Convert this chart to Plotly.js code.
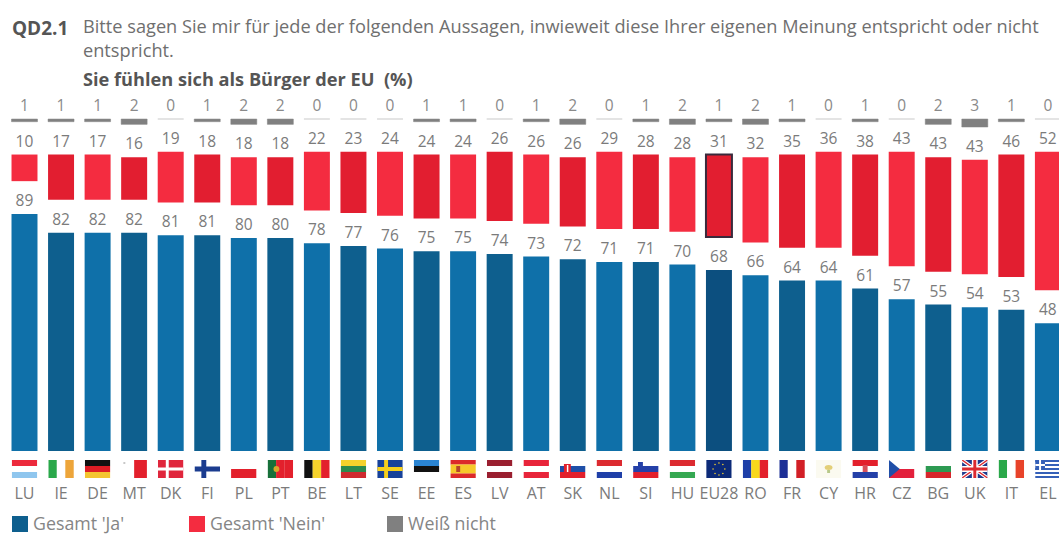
<!DOCTYPE html>
<html>
<head>
<meta charset="utf-8">
<script src="https://cdn.plot.ly/plotly-3.0.1.min.js"></script>
<style>html,body{margin:0;padding:0;background:#fff}#chart{width:1059px;height:535px}</style>
</head>
<body>
<div id="chart"></div>
<script>
const countries = ['LU','IE','DE','MT','DK','FI','PL','PT','BE','LT','SE','EE','ES','LV','AT','SK','NL','SI','HU','EU28','RO','FR','CY','HR','CZ','BG','UK','IT','EL'];
const gesamtJa = [89,82,82,82,81,81,80,80,78,77,76,75,75,74,73,72,71,71,70,68,66,64,64,61,57,55,54,53,48];
const gesamtNein = [10,17,17,16,19,18,18,18,22,23,24,24,24,26,26,26,29,28,28,31,32,35,36,38,43,43,43,46,52];
const weissNicht = [1,1,1,2,0,1,2,2,0,0,0,1,1,0,1,2,0,1,2,1,2,1,0,1,0,2,3,1,0];
const legendNames = ["Gesamt 'Ja'", "Gesamt 'Nein'", "Weiß nicht"];
const titleCode = 'QD2.1';
const titleLines = ['Bitte sagen Sie mir für jede der folgenden Aussagen, inwieweit diese Ihrer eigenen Meinung entspricht oder nicht', 'entspricht.'];
const subtitle = 'Sie fühlen sich als Bürger der EU  (%)';

const W = 1059, H = 535, BASE_PX = 451, PX_PER_UNIT = 2.663;
const GAP = 12.33;
const FONT = '"Open Sans", "Noto Sans", sans-serif';
const XR = [-24.5/36.55, (1059-24.5)/36.55];
const px = x => x / W;
const py = y => (BASE_PX - y) / BASE_PX;
const catX = i => (i - XR[0]) / (XR[1] - XR[0]);

const BL = ['#0f70a9', '#0e5f8e'];
const RD = ['#f42c40', '#e21e30'];
const GY = '#808080';
const alt = p => countries.map((_, i) => p[i % 2]);

/* flags */
function hs(c, extra='') { const h = 18/c.length; return c.map((k,i)=>`<rect x="0" y="${i*h}" width="26" height="${h+0.1}" fill="${k}"/>`).join('') + extra; }
function vs(c, extra='') { const w = 26/c.length; return c.map((k,i)=>`<rect x="${i*w}" y="0" width="${w+0.1}" height="18" fill="${k}"/>`).join('') + extra; }
const R = (x,y,w,h,f) => `<rect x="${x}" y="${y}" width="${w}" height="${h}" fill="${f}"/>`;
const flagArt = {
  LU: hs(['#ec2a3c','#ffffff','#8fc6ee']),
  IE: vs(['#2aa84a','#ffffff','#eda53a']),
  DE: hs(['#111111','#dd1c24','#f4c430']),
  MT: vs(['#ffffff','#e3202c']) + R(2,2,2,2,'#c8c8c8'),
  DK: hs(['#e0263c']) + R(8,0,3,18,'#fff') + R(0,7.5,26,3,'#fff'),
  FI: hs(['#ffffff']) + R(7,0,5,18,'#1b3c8f') + R(0,6.5,26,5,'#1b3c8f'),
  PL: hs(['#ffffff','#e3202c']),
  PT: vs(['#17703a','#e3202c','#e3202c']) + `<circle cx="9" cy="9" r="3" fill="#d8a62a"/>`,
  BE: vs(['#111111','#f6d32c','#e3202c']),
  LT: hs(['#f4d22c','#2b8a4e','#cf2a30']),
  SE: hs(['#17429a']) + R(7,0,4,18,'#f5cf1d') + R(0,7,26,4,'#f5cf1d'),
  EE: hs(['#2a84d2','#111111','#ffffff']),
  ES: hs(['#dc2a2a','#f6c92a','#f6c92a','#dc2a2a']) + R(6,6,4,6,'#b5452a'),
  LV: hs(['#9a1f30','#ffffff','#9a1f30']),
  AT: hs(['#e8243a','#ffffff','#e8243a']),
  SK: hs(['#ffffff','#1f4fa8','#e3202c']) + R(4,4,7,9,'#e3202c') + R(7,5,1.5,7,'#fff'),
  NL: hs(['#dc2a30','#ffffff','#1f3fa8']),
  SI: hs(['#ffffff','#2440a8','#e3202c']) + R(5,2,5,6,'#2440a8'),
  HU: hs(['#dc2a30','#ffffff','#35a852']),
  EU28: hs(['#0c2a78']) + [[13,3],[17,4.5],[19,9],[17,13.5],[13,15],[9,13.5],[7,9],[9,4.5]].map(p=>`<circle cx="${p[0]}" cy="${p[1]}" r="0.8" fill="#f4d22c"/>`).join(''),
  RO: vs(['#1d3fa8','#f8d81c','#e3202c']),
  FR: vs(['#1c2f96','#ffffff','#d21f26']),
  CY: hs(['#fbfaf0']) + `<ellipse cx="13" cy="7.5" rx="4" ry="2.5" fill="#e3cf78"/>` + R(11.5,10,3,3,'#b8c88a'),
  HR: hs(['#e3202c','#ffffff','#2440a8']) + R(10.5,5,5,7,'#d8505a'),
  CZ: hs(['#ffffff','#e3203c']) + `<polygon points="0,0 11,9 0,18" fill="#1f4fa8"/>`,
  BG: hs(['#ffffff','#2d9a52','#d8262c']),
  UK: hs(['#1f3a8c']) + `<path d="M0 0L26 18M26 0L0 18" stroke="#fff" stroke-width="3.6"/><path d="M0 0L26 18M26 0L0 18" stroke="#dc2a30" stroke-width="1.4"/>` + R(10,0,6,18,'#fff') + R(0,6,26,6,'#fff') + R(11.5,0,3,18,'#dc2a30') + R(0,7.5,26,3,'#dc2a30'),
  IT: vs(['#2aa84a','#ffffff','#e8432a']),
  EL: hs(['#3560b8','#ffffff','#3560b8','#ffffff','#3560b8','#ffffff','#3560b8','#ffffff','#3560b8']) + R(0,0,10,10,'#3560b8') + R(4,0,2,10,'#fff') + R(0,4,10,2,'#fff')
};
const flagUri = k => 'data:image/svg+xml;charset=utf-8,' + encodeURIComponent(`<svg xmlns="http://www.w3.org/2000/svg" width="26" height="18" viewBox="0 0 26 18" preserveAspectRatio="none">${flagArt[k]}</svg>`);
const flagImages = countries.map((c, i) => ({
  source: flagUri(c), xref: 'paper', yref: 'paper',
  x: catX(i), xanchor: 'center', y: py(460), yanchor: 'top',
  sizex: 25.5 / W, sizey: 18 / BASE_PX, sizing: 'stretch', layer: 'above'
}));

const textFont = c => ({family: FONT, size: 15.5, color: c});
const barCommon = {
  type: 'bar', x: countries, width: 0.711, textposition: 'outside', cliponaxis: false,
  constraintext: 'none', hoverinfo: 'skip', showlegend: false
};
const redBase = gesamtJa.map(v => v + GAP);
const grayBase = gesamtJa.map((v, i) => v + GAP + gesamtNein[i] + GAP);

const traces = [
  Object.assign({}, barCommon, {
    name: legendNames[0], y: gesamtJa, text: gesamtJa.map(String),
    textfont: textFont('#7b7b7b'), marker: {color: alt(BL).map((c,i)=>countries[i]==='EU28'?'#0c4f7f':c)}
  }),
  Object.assign({}, barCommon, {
    name: legendNames[1], y: gesamtNein, base: redBase, text: gesamtNein.map(String),
    textfont: textFont('#7b7b7b'),
    marker: {color: alt(RD), line: {
      color: countries.map(c => c === 'EU28' ? '#3a2a3c' : 'rgba(0,0,0,0)'),
      width: countries.map(c => c === 'EU28' ? 2 : 0)}}
  }),
  Object.assign({}, barCommon, {
    name: legendNames[2], y: weissNicht, base: grayBase, text: weissNicht.map(String),
    textfont: textFont('#8a8a8a'),
    marker: {color: GY, line: {
      color: weissNicht.map(v => v === 0 ? '#dcdcdc' : GY),
      width: weissNicht.map(v => v === 0 ? 1.5 : 0.5)}}
  })
];

const note = (x, y, text, o={}) => Object.assign({
  xref: 'paper', yref: 'paper', x: px(x - 1), y: py(y), text, showarrow: false,
  xanchor: 'left', yanchor: 'middle', align: 'left', borderpad: 0,
  font: {family: FONT, size: 18.2, color: '#6f6f6f'}
}, o);

const legendX = [12, 189, 387];
const legendColors = [BL[1], RD[0], GY];
const swatches = legendColors.map((c, i) => ({
  type: 'rect', xref: 'paper', yref: 'paper',
  x0: px(legendX[i]), x1: px(legendX[i] + 16), y0: py(532), y1: py(516),
  fillcolor: c, line: {width: 0}
}));

const annotations = [
  note(12, 28, `<b>${titleCode}</b>`, {font: {family: FONT, size: 19, color: '#555'}}),
  note(83, 38.5, titleLines.join('<br>')),
  note(83, 79, `<b>${subtitle}</b>`, {font: {family: FONT, size: 18.2, color: '#555'}})
].concat(legendNames.map((t, i) => note(legendX[i] + 21, 522.5, t, {font: {family: FONT, size: 17.8, color: '#858585'}})));

const layout = {
  width: W, height: H, margin: {l: 0, r: 0, t: 0, b: H - BASE_PX, pad: 0},
  paper_bgcolor: '#fff', plot_bgcolor: '#fff', barmode: 'overlay', showlegend: false,
  font: {family: FONT},
  xaxis: {
    type: 'category', range: XR, categoryorder: 'array', categoryarray: countries,
    tickvals: countries, ticktext: countries, ticks: '', ticklen: 0, showgrid: false, zeroline: false, showline: false,
    tickfont: {family: FONT, size: 16, color: '#7b7b7b'}, ticklabelstandoff: 31, ticklabeloverflow: 'allow', fixedrange: true,
    tickangle: 0
  },
  yaxis: {range: [0, BASE_PX / PX_PER_UNIT], visible: false, fixedrange: true},
  shapes: swatches, images: flagImages, annotations
};
Plotly.newPlot('chart', traces, layout, {displayModeBar: false, staticPlot: true});
</script>
</body>
</html>
